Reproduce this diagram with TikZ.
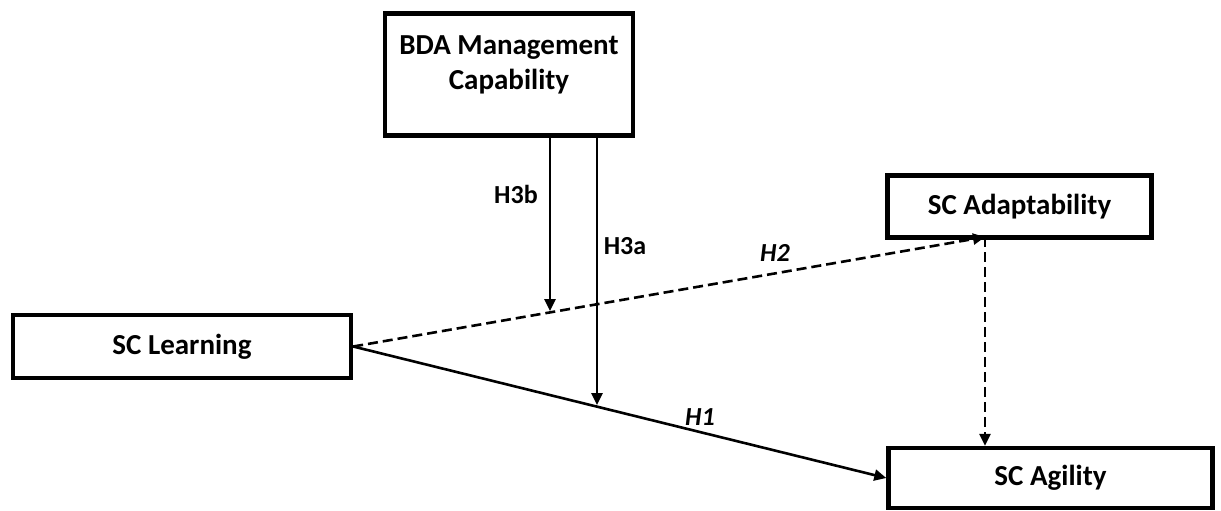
\documentclass[tikz,border=0pt]{standalone}
\usepackage{fontspec}
\setmainfont{Carlito}
\usetikzlibrary{arrows.meta}

\begin{document}
\begin{tikzpicture}[x=0.5pt,y=-0.5pt,>={Triangle[length=6pt,width=5.5pt]},
  box/.style={draw, line width=2.2pt, fill=white, font=\bfseries\fontsize{14.5}{17.5}\selectfont, align=center, inner sep=0pt},
  link/.style={->, line width=1.3pt},
  dash line/.style={dash pattern=on 5pt off 2.5pt},
  hyp/.style={font=\bfseries\fontsize{13}{15}\selectfont}]

\useasboundingbox (0,0) rectangle (1221,510);

\node[box, minimum width=124pt, minimum height=61pt] (bda) at (509,74.5) {BDA Management\\Capability\\[-5.5pt]};
\node[box, minimum width=169pt, minimum height=31.5pt] (learn) at (182,346.5) {SC Learning};
\node[box, minimum width=132pt, minimum height=31pt] (adapt) at (1019.5,206.5) {SC Adaptability};
\node[box, minimum width=162pt, minimum height=30pt] (agil) at (1050.5,478) {SC Agility};

\coordinate (ap) at (985,237);
\coordinate (m2) at (550,311);
\coordinate (m1) at (597,405);

\draw[link, dash line] (learn.east) -- (ap);
\draw[link] (learn.east) -- (agil.west);
\draw[link, dash line] (ap) -- (ap |- agil.north);
\draw[link] (bda.south -| m2) -- (m2);
\draw[link] (bda.south -| m1) -- (m1);

\node[hyp] (h3b) at (516,194) {H3b};
\node[hyp] (h3a) at (625,246) {H3a};
\node[hyp] (h2) at (775,253) {\itshape H2};
\node[hyp] (h1) at (700,417) {\itshape H1};

\end{tikzpicture}
\end{document}
